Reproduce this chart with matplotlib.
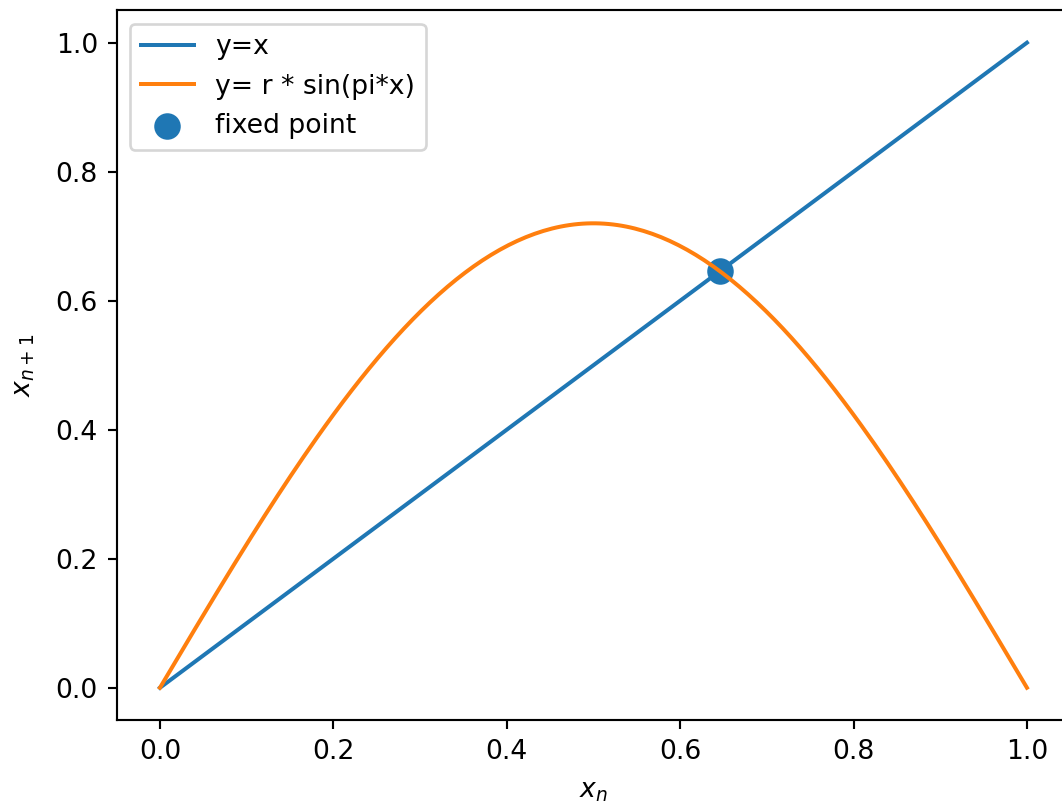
import numpy as np
import matplotlib
matplotlib.use("Agg")
import matplotlib.pyplot as plt

# map parameter and the fixed point
r = 0.72
x = np.linspace(0, 1, 200)
fixed_x = [0.646]
fixed_y = [0.646]

dpi = 192
fig = plt.figure(figsize=(1062 / dpi, 804 / dpi), dpi=dpi)
ax = fig.add_axes([0.1098, 0.1045, 0.898, 0.8825])

ax.plot(x, x, label='y=x')
ax.plot(x, r * np.sin(np.pi * x), label='y= r * sin(pi*x)')
ax.scatter(fixed_x, fixed_y, s=80, label='fixed point')

ax.set_xlabel(r'$x_n$', labelpad=5)
ax.set_ylabel(r'$x_{n+1}$', labelpad=7)
ax.legend(loc='upper left')

fig.savefig('out.png', dpi=dpi)
